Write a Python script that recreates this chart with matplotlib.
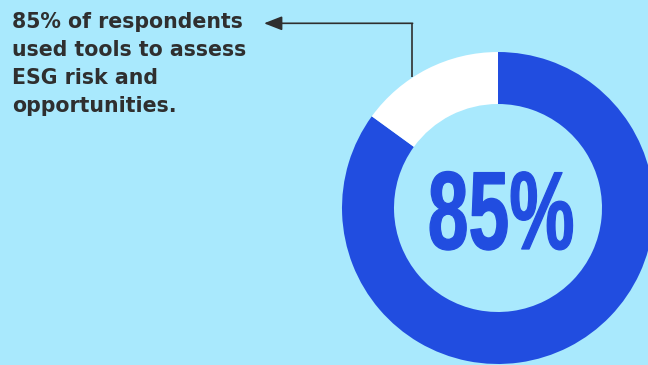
import matplotlib
matplotlib.use("Agg")
from matplotlib import pyplot as plt
from matplotlib.patheffects import AbstractPathEffect
from matplotlib.transforms import Affine2D

# data
labels = ["Used tools", "Did not"]
shares = [85, 15]
big_label = "85%"
note = "85% of respondents\nused tools to assess\nESG risk and\nopportunities."

BG = "#a9e9fd"
BLUE = "#214de0"
GREY = "#2f2f2f"
W, H = 648, 365


class Squeeze(AbstractPathEffect):
    # narrows glyphs horizontally around their centre, then thickens them a bit
    def __init__(self, sx, stroke=0):
        super().__init__()
        self.sx = sx
        self.stroke = stroke

    def draw_path(self, renderer, gc, tpath, affine, rgbFace=None):
        ext = tpath.get_extents()
        cx = (ext.x0 + ext.x1) / 2
        t = Affine2D().translate(-cx, 0).scale(self.sx, 1).translate(cx, 0) + affine
        gc0 = renderer.new_gc()
        gc0.copy_properties(gc)
        gc0.set_linewidth(self.stroke)
        gc0.set_foreground(rgbFace)
        gc0.set_joinstyle("round")
        renderer.draw_path(gc0, tpath, t, rgbFace)
        gc0.restore()


fig = plt.figure(figsize=(6.48, 3.65), dpi=100, facecolor=BG)
ax = fig.add_axes([0, 0, 1, 1])
ax.set_facecolor(BG)

ax.pie(shares, colors=[BLUE, "white"], startangle=90, counterclock=False,
       center=(498, H - 208), radius=156,
       wedgeprops=dict(width=52, linewidth=0))

ax.text(501, H - 249, big_label, ha="center", va="baseline", color=BLUE,
        fontsize=80, fontweight="bold", family="Liberation Sans",
        path_effects=[Squeeze(0.66, stroke=0.9)])

ax.text(12, H - 12.5, note, ha="left", va="top", color=GREY, fontsize=14.8,
        fontweight="bold", family="DejaVu Sans", linespacing=1.5)

# leader arrow
ax.plot([412, 412], [H - 77, H - 23.3], color=GREY, lw=1.2, solid_capstyle="butt")
ax.annotate("", xy=(264, H - 23.3), xytext=(412.6, H - 23.3),
            arrowprops=dict(arrowstyle="-|>,head_length=11,head_width=4.3",
                            mutation_scale=1, color=GREY, lw=1.2,
                            shrinkA=0, shrinkB=0))

ax.set_xlim(0, W)
ax.set_ylim(0, H)
ax.set_aspect("auto")
ax.axis("off")

fig.savefig("out.png", dpi=100, facecolor=BG)
